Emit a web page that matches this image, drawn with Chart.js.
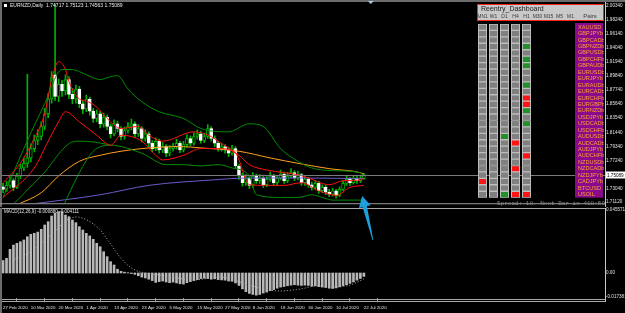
<!DOCTYPE html>
<html>
<head>
<meta charset="utf-8">
<script src="https://cdn.jsdelivr.net/npm/chart.js@4.4.1/dist/chart.umd.min.js"></script>
<style>
  html, body { margin: 0; padding: 0; background: #000; }
  #wrap { position: relative; width: 625px; height: 313px; background: #000; overflow: hidden; }
  #wrap canvas { position: absolute; }
</style>
</head>
<body>
<div id="wrap">
  <canvas id="mainChart" width="625" height="207" style="left:0;top:0;width:625px;height:207px"></canvas>
  <canvas id="macdChart" width="625" height="123" style="left:0;top:190px;width:625px;height:123px"></canvas>
  <canvas id="dashChart" width="130" height="200" style="left:476px;top:3px;width:130px;height:200px"></canvas>
</div>
<script>
// ---- price data (EURNZD daily, 27 Feb 2020 .. 22 Jul 2020) ----
const dateLabels = ['27 Feb 2020', '10 Mar 2020', '20 Mar 2020', '1 Apr 2020', '13 Apr 2020', '23 Apr 2020', '5 May 2020',
  '15 May 2020', '27 May 2020', '8 Jun 2020', '18 Jun 2020', '30 Jun 2020', '10 Jul 2020', '22 Jul 2020'];
const dateTickBars = [0, 8, 16, 24, 32, 40, 48, 56, 64, 72, 80, 88, 96, 104];

const opens = [1.733, 1.729, 1.735, 1.742, 1.732, 1.749, 1.761, 1.768, 1.776, 1.790, 1.802, 1.808, 1.823, 1.842, 1.864, 1.900,
  1.868, 1.886, 1.876, 1.893, 1.871, 1.864, 1.879, 1.857, 1.849, 1.864, 1.846, 1.835, 1.842, 1.827, 1.837, 1.823,
  1.812, 1.827, 1.820, 1.808, 1.817, 1.823, 1.827, 1.812, 1.820, 1.805, 1.812, 1.798, 1.790, 1.801, 1.788, 1.793,
  1.783, 1.790, 1.793, 1.798, 1.788, 1.796, 1.805, 1.798, 1.808, 1.812, 1.802, 1.808, 1.820, 1.805, 1.798, 1.790,
  1.793, 1.788, 1.783, 1.790, 1.764, 1.749, 1.739, 1.746, 1.735, 1.749, 1.742, 1.746, 1.736, 1.744, 1.749, 1.739,
  1.746, 1.752, 1.742, 1.749, 1.754, 1.746, 1.751, 1.739, 1.744, 1.736, 1.732, 1.738, 1.727, 1.732, 1.725, 1.722,
  1.727, 1.720, 1.729, 1.738, 1.744, 1.739, 1.746, 1.742, 1.745];
const highs = [1.738, 1.741, 1.748, 1.745, 1.753, 1.767, 1.776, 1.901, 1.797, 1.810, 1.818, 1.830, 1.850, 1.872, 1.905, 2.015,
  1.894, 1.892, 1.900, 1.897, 1.880, 1.885, 1.883, 1.862, 1.870, 1.867, 1.850, 1.848, 1.846, 1.843, 1.840, 1.827,
  1.833, 1.831, 1.823, 1.822, 1.829, 1.834, 1.830, 1.826, 1.823, 1.818, 1.815, 1.802, 1.806, 1.804, 1.799, 1.796,
  1.795, 1.798, 1.804, 1.801, 1.801, 1.811, 1.809, 1.814, 1.818, 1.816, 1.813, 1.826, 1.823, 1.809, 1.801, 1.798,
  1.796, 1.792, 1.795, 1.793, 1.767, 1.753, 1.751, 1.749, 1.754, 1.752, 1.751, 1.749, 1.748, 1.755, 1.752, 1.750,
  1.758, 1.755, 1.754, 1.760, 1.757, 1.756, 1.753, 1.748, 1.747, 1.740, 1.742, 1.741, 1.736, 1.735, 1.729, 1.731,
  1.729, 1.733, 1.742, 1.749, 1.747, 1.750, 1.749, 1.749, 1.753];
const lows = [1.724, 1.726, 1.731, 1.727, 1.730, 1.745, 1.757, 1.762, 1.770, 1.785, 1.796, 1.803, 1.818, 1.836, 1.858, 1.862,
  1.860, 1.868, 1.870, 1.865, 1.857, 1.858, 1.851, 1.842, 1.845, 1.840, 1.829, 1.830, 1.821, 1.822, 1.818, 1.806,
  1.809, 1.815, 1.803, 1.804, 1.813, 1.818, 1.807, 1.808, 1.800, 1.801, 1.793, 1.785, 1.787, 1.783, 1.784, 1.778,
  1.779, 1.786, 1.789, 1.784, 1.785, 1.792, 1.794, 1.795, 1.804, 1.798, 1.799, 1.805, 1.801, 1.793, 1.786, 1.786,
  1.783, 1.778, 1.780, 1.760, 1.744, 1.734, 1.735, 1.730, 1.732, 1.738, 1.738, 1.732, 1.733, 1.741, 1.735, 1.736,
  1.743, 1.738, 1.739, 1.746, 1.742, 1.743, 1.735, 1.735, 1.732, 1.728, 1.729, 1.723, 1.724, 1.721, 1.718, 1.719,
  1.716, 1.718, 1.727, 1.735, 1.735, 1.737, 1.738, 1.739, 1.744];
const closes = [1.729, 1.735, 1.742, 1.732, 1.749, 1.761, 1.768, 1.776, 1.790, 1.802, 1.808, 1.823, 1.842, 1.864, 1.896, 1.868,
  1.886, 1.876, 1.893, 1.871, 1.864, 1.879, 1.857, 1.849, 1.864, 1.846, 1.835, 1.842, 1.827, 1.837, 1.823, 1.812,
  1.827, 1.820, 1.808, 1.817, 1.823, 1.827, 1.812, 1.820, 1.805, 1.812, 1.798, 1.790, 1.801, 1.788, 1.793, 1.783,
  1.790, 1.793, 1.798, 1.788, 1.796, 1.805, 1.798, 1.808, 1.812, 1.802, 1.808, 1.820, 1.805, 1.798, 1.790, 1.793,
  1.788, 1.783, 1.790, 1.764, 1.749, 1.739, 1.746, 1.735, 1.749, 1.742, 1.746, 1.736, 1.744, 1.749, 1.739, 1.746,
  1.752, 1.742, 1.749, 1.754, 1.746, 1.751, 1.739, 1.744, 1.736, 1.732, 1.738, 1.727, 1.732, 1.725, 1.722, 1.727,
  1.720, 1.729, 1.738, 1.744, 1.739, 1.746, 1.742, 1.745, 1.7509];

// indicator lines: [bar, price]
const maSlow = [[4, 1.706], [11, 1.724], [16, 1.749], [22, 1.771], [28, 1.780], [34, 1.786], [40, 1.790], [45, 1.792],
  [51, 1.793], [57, 1.791], [68, 1.786], [77, 1.776], [86, 1.767], [94, 1.760], [103, 1.754], [104, 1.752]];
const maLong = [[8, 1.707], [28, 1.721], [42, 1.735], [60, 1.743], [71, 1.746], [86, 1.746], [104, 1.745]];
const bandUpper = [[0, 1.717], [6, 1.790], [12, 1.857], [17, 1.908], [20, 1.908], [22, 1.905], [25, 1.898], [28, 1.893],
  [30, 1.896], [33, 1.899], [36, 1.879], [40, 1.860], [45, 1.845], [52, 1.835], [57, 1.820], [65, 1.815], [71, 1.827],
  [75, 1.823], [80, 1.790], [85, 1.771], [89, 1.761], [95, 1.757], [103, 1.754], [104, 1.749]];
const bandLower = [[17, 1.700], [22, 1.754], [26, 1.786], [31, 1.795], [40, 1.783], [47, 1.766], [52, 1.766], [57, 1.764],
  [62, 1.766], [66, 1.761], [71, 1.749], [73, 1.721], [80, 1.717], [85, 1.717], [89, 1.721], [92, 1.717], [95, 1.713],
  [104, 1.713]];
const bandLower2 = [[2, 1.702], [11, 1.749], [21, 1.801], [26, 1.800], [31, 1.795]];
const envUpper = [[0, 1.739], [5, 1.768], [9, 1.805], [12, 1.842], [14, 1.893], [16, 1.920], [18, 1.908], [19, 1.890],
  [22, 1.864], [24, 1.861], [27, 1.852], [30, 1.835], [34, 1.820], [39, 1.823], [42, 1.810], [46, 1.801], [55, 1.815],
  [60, 1.808], [62, 1.801], [68, 1.780], [71, 1.766], [76, 1.758], [81, 1.754], [85, 1.751], [88, 1.746], [94, 1.736],
  [98, 1.742], [103, 1.743], [104, 1.746]];
const envLower = [[0, 1.717], [9, 1.761], [13, 1.801], [16, 1.830], [18, 1.845], [22, 1.830], [27, 1.810], [31, 1.795],
  [34, 1.810], [40, 1.801], [44, 1.780], [46, 1.773], [52, 1.780], [57, 1.790], [62, 1.790], [67, 1.783], [71, 1.736],
  [76, 1.735], [81, 1.735], [86, 1.739], [91, 1.727], [96, 1.720], [100, 1.732], [104, 1.735]];

const priceTicks = [2.0034, 1.9824, 1.9614, 1.9404, 1.9194, 1.8984, 1.8774, 1.8564, 1.8354, 1.8144, 1.7934, 1.7724, 1.7304, 1.7112];
const lastPrice = 1.75089;
const headerText = 'EURNZD,Daily  1.74717 1.75123 1.74563 1.75089';

// ---- MACD ----
const macdHist = [0.0090, 0.0106, 0.0171, 0.0202, 0.0215, 0.0226, 0.0239, 0.0262, 0.0280, 0.0287, 0.0296, 0.0316, 0.0347,
  0.0371, 0.0412, 0.0432, 0.0443, 0.0443, 0.0419, 0.0407, 0.0383, 0.0364, 0.0335, 0.0311, 0.0287, 0.0268, 0.0244,
  0.0215, 0.0190, 0.0154, 0.0118, 0.0082, 0.0058, 0.0027, 0.0012, 0.0006, 0.0002, -0.0004, -0.0010, -0.0020, -0.0030,
  -0.0036, -0.0045, -0.0055, -0.0068, -0.0062, -0.0058, -0.0065, -0.0070, -0.0066, -0.0072, -0.0078, -0.0080, -0.0070,
  -0.0062, -0.0055, -0.0048, -0.0040, -0.0038, -0.0040, -0.0045, -0.0042, -0.0048, -0.0050, -0.0052, -0.0058, -0.0060,
  -0.0072, -0.0090, -0.0115, -0.0135, -0.0148, -0.0155, -0.0160, -0.0155, -0.0145, -0.0138, -0.0128, -0.0120, -0.0110,
  -0.0102, -0.0098, -0.0092, -0.0088, -0.0085, -0.0088, -0.0090, -0.0088, -0.0090, -0.0095, -0.0092, -0.0098, -0.0102,
  -0.0105, -0.0110, -0.0112, -0.0108, -0.0100, -0.0092, -0.0085, -0.0075, -0.0065, -0.0052, -0.0040, -0.0025];
const macdSignal = [[1, 0.0072], [8.6, 0.0166], [14.4, 0.0289], [18.4, 0.0383], [21.3, 0.0405], [24.2, 0.0383], [28, 0.0311],
  [30.8, 0.0217], [33.7, 0.0116], [36.6, 0.0043], [39.5, 0.0007], [43.2, -0.0007], [49, -0.0029], [54.8, -0.0051],
  [59.7, -0.0036], [62.5, -0.0029], [68.3, -0.0065], [74, -0.0108], [79.8, -0.0130], [85.6, -0.0116], [90.5, -0.0094],
  [95.1, -0.0101], [100, -0.0087], [104, -0.0043]];
const macdTicks = [0.045571, 0, -0.017381];
const macdTickLabels = ['0.045571', '0.00', '-0.017381'];
const macdText = 'MACD(12,26,9) -0.000880 -0.004111';

// ---- dashboard ----
const timeframes = ['MN1', 'W1', 'D1', 'H4', 'H1', 'M30', 'M15', 'M5', 'M1'];
const pairs = ['XAUUSD', 'GBPJPYb', 'GBPCADb', 'GBPNZDb', 'GBPUSDb', 'GBPCHFb', 'GBPAUDb', 'EURUSDb', 'EURJPYb',
  'EURAUDb', 'EURCADb', 'EURCHFb', 'EURGBPb', 'EURNZDb', 'USDJPYb', 'USDCADb', 'USDCHFb', 'AUDUSDb', 'AUDCADb',
  'AUDJPYb', 'AUDCHFb', 'NZDUSDb', 'NZDCADb', 'NZDJPYb', 'CADJPYb', 'BTCUSD', 'USOIL'];
const sigMN1 = [0,0,0,0,0,0,0,0,0,0,0,0,0,0,0,0,0,0,0,0,0,0,0,0,-1,0,0];
const sigW1  = [0,0,0,0,0,0,0,0,0,0,0,0,0,0,0,0,0,0,0,0,0,0,0,0,0,0,0];
const sigD1  = [0,0,0,0,0,0,0,0,0,0,0,0,0,0,0,0,0,1,0,0,0,0,0,0,0,0,1];
const sigH4  = [0,0,0,0,0,0,0,0,0,0,0,0,0,0,0,0,0,0,-1,0,0,0,-1,0,0,0,-1];
const sigH1  = [0,0,0,1,0,1,1,0,0,1,0,-1,-1,1,0,1,0,0,0,0,-1,0,0,0,0,0,-1];
const spreadText = 'Spread: 18. Next Bar in 418:50';

Chart.defaults.font.family = '"Liberation Sans", Arial, sans-serif';
Chart.defaults.animation = false;

const WICK = '#00b000', BAND = '#008c00';
const xMin = -0.3, xMax = 173.5;
const pts = arr => arr.map(p => ({ x: p[0], y: p[1] }));
const lineDs = (data, color, extra) => Object.assign({
  type: 'line', data: pts(data), borderColor: color, borderWidth: 1, pointRadius: 0,
  cubicInterpolationMode: 'monotone', order: 0
}, extra || {});
const noGrid = { display: false, drawTicks: false };

// main price panel
const mainDeco = {
  id: 'mainDeco',
  beforeDraw(chart) {
    const c = chart.ctx;
    c.save();
    c.fillStyle = '#000';
    c.fillRect(0, 0, chart.width, chart.height);
    c.restore();
  },
  afterDatasetsDraw(chart) {
    const { ctx, chartArea: a, scales: { y } } = chart;
    const py = Math.round(y.getPixelForValue(lastPrice)) + 0.5;
    ctx.save();
    ctx.strokeStyle = '#7a7a7a';
    ctx.lineWidth = 1;
    ctx.beginPath(); ctx.moveTo(a.left, py); ctx.lineTo(a.right, py); ctx.stroke();
    ctx.restore();
  },
  afterDraw(chart) {
    const { ctx, chartArea: a, scales: { x, y } } = chart;
    ctx.save();
    // frame
    ctx.fillStyle = '#6c6c6c';
    ctx.fillRect(0, 0, chart.width, 2);
    ctx.fillRect(0, 0, 2, chart.height);
    ctx.strokeStyle = '#c8c8c8';
    ctx.lineWidth = 1;
    ctx.beginPath(); ctx.moveTo(a.right + 0.5, 2); ctx.lineTo(a.right + 0.5, chart.height); ctx.stroke();
    ctx.strokeStyle = '#9a9a9a';
    ctx.beginPath(); ctx.moveTo(0, a.bottom + 0.5); ctx.lineTo(a.right, a.bottom + 0.5); ctx.stroke();
    // chart shift marker
    const sx = x.getPixelForValue(106);
    ctx.fillStyle = '#a8c8e8';
    ctx.beginPath(); ctx.moveTo(sx - 3, 1); ctx.lineTo(sx + 3, 1); ctx.lineTo(sx, 4); ctx.closePath(); ctx.fill();
    // header
    ctx.fillStyle = '#ffffff';
    ctx.fillRect(4, 4, 3, 3);
    ctx.font = '5px "Liberation Sans"';
    ctx.textBaseline = 'middle';
    ctx.fillStyle = '#e8e8e8';
    ctx.fillText(headerText, 10, 5.5);
    // current price box
    const py = Math.round(y.getPixelForValue(lastPrice));
    ctx.fillStyle = '#ffffff';
    ctx.fillRect(a.right + 1, py - 3.5, chart.width - a.right - 1, 7);
    ctx.fillStyle = '#000';
    ctx.font = '4.6px "Liberation Sans"';
    ctx.fillText(lastPrice.toFixed(5), a.right + 2, py + 0.5);
    // spread line
    ctx.font = '6px "Liberation Mono"';
    ctx.fillStyle = '#8a8a8a';
    ctx.textAlign = 'right';
    ctx.fillText(spreadText, a.right, 203);
    ctx.restore();
  }
};

new Chart(document.getElementById('mainChart'), {
  type: 'bar',
  data: {
    datasets: [
      lineDs(envUpper, '#ff1010'),
      lineDs(envLower, '#ff1010'),
      lineDs(bandUpper, BAND),
      lineDs(bandLower, BAND),
      lineDs(bandLower2, BAND),
      lineDs(maSlow, '#ffa020'),
      lineDs(maLong, '#6a5acd'),
      {
        type: 'bar', order: 2, grouped: false, barThickness: 1, borderSkipped: false,
        data: highs.map((h, i) => ({ x: i, y: [lows[i], h] })),
        backgroundColor: WICK
      },
      {
        type: 'bar', order: 1, grouped: false, barThickness: 3, minBarLength: 1, borderSkipped: false, borderWidth: 1,
        data: opens.map((o, i) => ({ x: i, y: [o, closes[i]] })),
        backgroundColor: closes.map((c, i) => c < opens[i] ? '#ffffff' : '#000000'),
        borderColor: closes.map((c, i) => c < opens[i] ? '#ffffff' : WICK)
      }
    ]
  },
  options: {
    responsive: false,
    layout: { padding: { left: 2, top: 3, right: 0, bottom: 1 } },
    plugins: { legend: { display: false }, tooltip: { enabled: false } },
    scales: {
      x: { type: 'linear', min: xMin, max: xMax, offset: false, display: false },
      y: {
        type: 'linear', position: 'right', min: 1.70833, max: 2.00634,
        grid: noGrid, border: { display: false },
        afterFit: s => { s.width = 20; },
        afterBuildTicks: s => { s.ticks = priceTicks.map(v => ({ value: v })); },
        ticks: {
          autoSkip: false, padding: 1, color: '#e0e0e0', font: { size: 4.6 },
          callback: v => v.toFixed(5)
        }
      }
    }
  },
  plugins: [mainDeco]
});

// MACD panel
const arrowMark = { tipBar: 103.5, tipVal: 0.0557, tailBar: 106.6, tailVal: 0.0239 };
const macdDeco = {
  id: 'macdDeco',
  afterDraw(chart) {
    const { ctx, chartArea: a, scales: { x, y } } = chart;
    ctx.save();
    ctx.fillStyle = '#000';
    ctx.fillRect(0, a.top - 1.5, a.right, 1);
    ctx.strokeStyle = '#a8a8a8';
    ctx.lineWidth = 1;
    ctx.beginPath();
    ctx.moveTo(0, a.top - 0.5); ctx.lineTo(a.right, a.top - 0.5);
    ctx.moveTo(0, a.bottom + 1.5); ctx.lineTo(a.right, a.bottom + 1.5);
    ctx.moveTo(0, a.bottom + 3.5); ctx.lineTo(a.right, a.bottom + 3.5);
    ctx.stroke();
    ctx.strokeStyle = '#c8c8c8';
    ctx.beginPath(); ctx.moveTo(a.right + 0.5, a.top - 1); ctx.lineTo(a.right + 0.5, a.bottom + 4); ctx.stroke();
    ctx.fillStyle = '#6c6c6c';
    ctx.fillRect(0, a.top - 1, 2, chart.height - a.top + 1);
    ctx.font = '4.6px "Liberation Sans"';
    ctx.fillStyle = '#e0e0e0';
    ctx.textBaseline = 'middle';
    ctx.fillText(macdText, 4, a.top + 3);
    // arrow annotation
    const tx = x.getPixelForValue(arrowMark.tipBar), ty = y.getPixelForValue(arrowMark.tipVal);
    const bx = x.getPixelForValue(arrowMark.tailBar), by = y.getPixelForValue(arrowMark.tailVal);
    const len = Math.hypot(tx - bx, ty - by), dx = (tx - bx) / len, dy = (ty - by) / len;
    const px = -dy, py = dx;
    const hx = tx - dx * 11, hy = ty - dy * 11;
    ctx.fillStyle = '#1e9fdc';
    ctx.beginPath();
    ctx.moveTo(tx, ty);
    ctx.lineTo(hx + px * 6, hy + py * 6);
    ctx.lineTo(hx + px * 2.2, hy + py * 2.2);
    ctx.lineTo(bx + px * 0.4, by + py * 0.4);
    ctx.lineTo(bx - px * 0.4, by - py * 0.4);
    ctx.lineTo(hx - px * 2.2, hy - py * 2.2);
    ctx.lineTo(hx - px * 6, hy - py * 6);
    ctx.closePath();
    ctx.fill();
    ctx.restore();
  }
};

new Chart(document.getElementById('macdChart'), {
  type: 'bar',
  data: {
    datasets: [
      {
        type: 'line', data: pts(macdSignal), borderColor: '#b4b4b4', borderWidth: 1, borderDash: [1, 2],
        pointRadius: 0, cubicInterpolationMode: 'monotone', order: 0
      },
      {
        type: 'bar', order: 1, grouped: false, barThickness: 2, borderSkipped: false,
        data: macdHist.map((v, i) => ({ x: i, y: v })), backgroundColor: '#b8b8b8'
      }
    ]
  },
  options: {
    responsive: false,
    layout: { padding: { left: 2, top: 19, right: 0, bottom: 0 } },
    plugins: { legend: { display: false }, tooltip: { enabled: false } },
    scales: {
      x: {
        type: 'linear', min: xMin, max: xMax, offset: false,
        grid: { display: true, drawOnChartArea: false, tickLength: 4, color: '#a0a0a0' },
        border: { display: false },
        afterFit: s => { s.height = 15; },
        afterBuildTicks: s => { s.ticks = dateTickBars.map(v => ({ value: v })); },
        ticks: {
          autoSkip: false, maxRotation: 0, align: 'start', padding: 3, color: '#e0e0e0', font: { size: 4.4 },
          callback: (v, i) => dateLabels[i]
        }
      },
      y: {
        type: 'linear', position: 'right', min: -0.018075, max: 0.046272,
        grid: noGrid, border: { display: false },
        afterFit: s => { s.width = 20; },
        afterBuildTicks: s => { s.ticks = macdTicks.map(v => ({ value: v })); },
        ticks: { autoSkip: false, padding: 1, color: '#e0e0e0', font: { size: 4.6 }, callback: (v, i) => macdTickLabels[i] }
      }
    }
  },
  plugins: [macdDeco]
});

// dashboard
const cellColor = s => s > 0 ? '#23902a' : (s < 0 ? '#ff1414' : '#808080');
const dashDeco = {
  id: 'dashDeco',
  beforeDraw(chart) {
    const { ctx, chartArea: a, scales: { x, y } } = chart;
    ctx.save();
    ctx.fillStyle = '#c9c9c9';
    ctx.fillRect(1, 1, 127, 17);
    ctx.strokeStyle = '#ff2020';
    ctx.lineWidth = 1;
    ctx.strokeRect(1.5, 1.5, 126, 16);
    ctx.fillStyle = '#202020';
    ctx.font = '7px "Liberation Sans"';
    ctx.textBaseline = 'middle';
    ctx.fillText('Reentry_Dashboard', 5, 6.5);
    ctx.font = '5px "Liberation Sans"';
    ctx.textAlign = 'center';
    ctx.fillStyle = '#3a3a3a';
    timeframes.forEach((t, i) => ctx.fillText(t, x.getPixelForValue(i), 13.5));
    ctx.font = '6px "Liberation Sans"';
    ctx.fillText('Pairs', y.left + y.width / 2, 13.5);
    ctx.fillStyle = '#8a0a8c';
    ctx.fillRect(y.left - 1, a.top - 1, y.width, a.height + 1);
    ctx.restore();
  }
};
const dashSets = [sigMN1, sigW1, sigD1, sigH4, sigH1].map((sig, c) => ({
  type: 'bar', grouped: false, categoryPercentage: 1, barPercentage: 1, borderSkipped: false,
  data: pairs.map((p, r) => ({ x: [c - 0.38, c + 0.38], y: p })),
  backgroundColor: sig.map(cellColor), borderColor: '#bdbdbd', borderWidth: 1
}));

new Chart(document.getElementById('dashChart'), {
  type: 'bar',
  data: { labels: pairs, datasets: dashSets },
  options: {
    responsive: false,
    indexAxis: 'y',
    layout: { padding: { left: 1, top: 21, right: 2, bottom: 3 } },
    plugins: { legend: { display: false }, tooltip: { enabled: false } },
    scales: {
      x: { type: 'linear', min: -0.5, max: 8.5, offset: false, display: false },
      y: {
        type: 'category', position: 'right', offset: true,
        grid: noGrid, border: { display: false },
        afterFit: s => { s.width = 28; },
        ticks: { autoSkip: false, padding: 2, crossAlign: 'near', color: '#ffa030', font: { size: 5.6 } }
      }
    }
  },
  plugins: [dashDeco]
});
</script>
</body>
</html>
